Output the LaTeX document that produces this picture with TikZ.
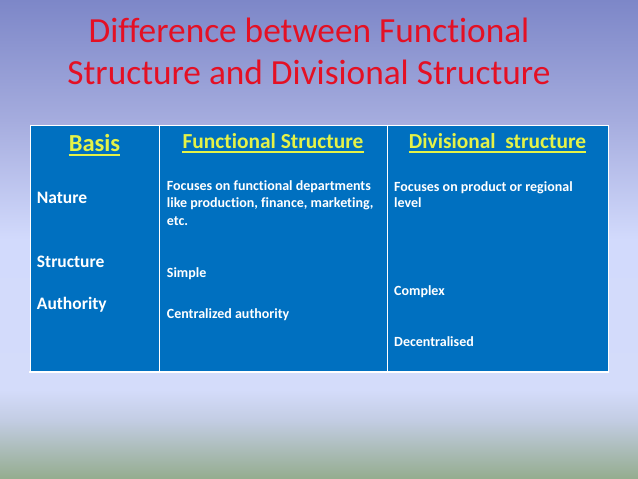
\documentclass[tikz,border=0pt]{standalone}
\usepackage{fontspec}
\setmainfont{Carlito}[Ligatures={NoCommon}]
\definecolor{bgtop}{RGB}{125,135,200}
\definecolor{bgq}{RGB}{165,172,222}
\definecolor{bgmid}{RGB}{210,218,252}
\definecolor{bglow}{RGB}{212,220,250}
\definecolor{bgfade}{RGB}{195,205,228}
\definecolor{bgbot}{RGB}{148,172,142}
\definecolor{tblue}{RGB}{0,112,192}
\definecolor{hyellow}{RGB}{228,242,72}
\definecolor{tred}{RGB}{228,16,36}
\pgfdeclareverticalshading{slidebg}{100bp}{color(0bp)=(bgbot); color(25bp)=(bgbot); color(31.2bp)=(bgfade); color(34.3bp)=(bglow); color(50bp)=(bgmid); color(62.5bp)=(bgq); color(75bp)=(bgtop); color(100bp)=(bgtop)}
\tikzset{
  titletext/.style={inner sep=0pt, anchor=base, text=tred, font=\fontsize{35.3}{42}\selectfont},
  headtext/.style={inner sep=0pt, anchor=base, text=hyellow, font=\bfseries\fontsize{21.4}{25}\selectfont},
  rowtext/.style={inner sep=0pt, anchor=base west, text=white, font=\bfseries\fontsize{17.5}{21}\selectfont},
  celltext/.style={inner sep=0pt, anchor=base west, text=white, font=\bfseries\fontsize{14}{17.2}\selectfont},
  uline/.style={draw=hyellow, line width=1.5pt},
  gridline/.style={draw=white, line width=1pt}
}
\begin{document}
\begin{tikzpicture}[x=1pt,y=-1pt]
\useasboundingbox (0,0) rectangle (638,479);
\shade[shading=slidebg] (0,0) rectangle (638,479);
% title
\node[titletext] (t1) at (309,42) {Difference between Functional};
\node[titletext] (t2) at (309,84) {Structure and Divisional Structure};
% table body
\fill[tblue] (30,125) rectangle (608,371);
\draw[gridline] (30,125) rectangle (608,371);
\draw[gridline] (159,125) -- (159,371);
\draw[gridline] (387,125) -- (387,371);
\draw[draw=white, line width=2pt] (29,372) -- (609,372);
% headers
\node[headtext, font=\bfseries\fontsize{24.5}{28}\selectfont] (hb) at (94.5,151) {Basis};
\node[headtext] (hf) at (273,148.3) {Functional Structure};
\node[headtext] (hd) at (497.5,148.3) {Divisional\ \ structure};
\draw[uline] ([yshift=-4pt]hb.base west) -- ([yshift=-4pt]hb.base east);
\draw[uline] ([yshift=-3.5pt]hf.base west) -- ([yshift=-3.5pt]hf.base east);
\draw[uline] ([yshift=-3.5pt]hd.base west) -- ([yshift=-3.5pt]hd.base east);
% row labels
\node[rowtext] (rn) at (36.7,203.3) {Nature};
\node[rowtext] (rs) at (36.7,267) {Structure};
\node[rowtext] (ra) at (36.7,309) {Authority};
% functional column
\node[celltext] (f1) at (166.7,190.7) {Focuses on functional departments};
\node[celltext] (f2) at (166.7,207.9) {like production, finance, marketing,};
\node[celltext] (f3) at (166.7,225.1) {etc.};
\node[celltext] (fs) at (166.7,277) {Simple};
\node[celltext] (fa) at (166.7,318) {Centralized authority};
% divisional column
\node[celltext] (d1) at (394,191) {Focuses on product or regional};
\node[celltext] (d2) at (394,207.5) {level};
\node[celltext] (dc) at (394,295.7) {Complex};
\node[celltext] (dd) at (394,346.5) {Decentralised};
\end{tikzpicture}
\end{document}
